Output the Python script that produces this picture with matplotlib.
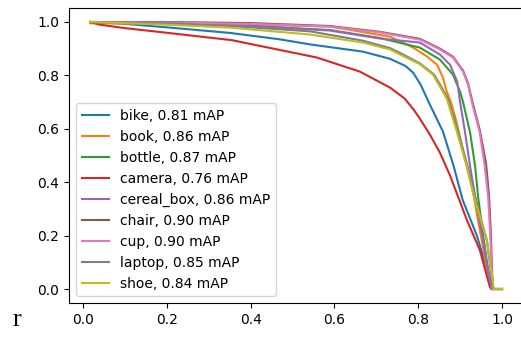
import matplotlib
matplotlib.use("Agg")
import matplotlib.pyplot as plt

# Precision-recall curves, values
labels = ["bike, 0.81 mAP", "book, 0.86 mAP", "bottle, 0.87 mAP", "camera, 0.76 mAP",
          "cereal_box, 0.86 mAP", "chair, 0.90 mAP", "cup, 0.90 mAP",
          "laptop, 0.85 mAP", "shoe, 0.84 mAP"]

bike_x = [0.017, 0.1, 0.2, 0.351, 0.47, 0.542, 0.668, 0.733, 0.77, 0.788, 0.806, 0.825,
          0.859, 0.885, 0.906, 0.94, 0.971, 0.975, 1.0]
bike_y = [1.0, 0.993, 0.98, 0.959, 0.935, 0.916, 0.889, 0.862, 0.835, 0.81, 0.765, 0.70,
          0.59, 0.458, 0.334, 0.2, 0.04, 0.0, 0.0]

book_x = [0.017, 0.2, 0.4, 0.589, 0.733, 0.788, 0.821, 0.845, 0.859, 0.868, 0.878, 0.89,
          0.91, 0.93, 0.947, 0.965, 0.975, 1.0]
book_y = [0.995, 0.995, 0.99, 0.983, 0.945, 0.904, 0.871, 0.84, 0.792, 0.74, 0.70, 0.634,
          0.5, 0.37, 0.22, 0.07, 0.0, 0.0]

bottle_x = [0.017, 0.2, 0.4, 0.589, 0.709, 0.804, 0.852, 0.883, 0.9, 0.907, 0.924, 0.936,
            0.943, 0.955, 0.968, 0.975, 1.0]
bottle_y = [1.0, 0.995, 0.985, 0.97, 0.94, 0.904, 0.859, 0.803, 0.739, 0.70, 0.585, 0.458,
            0.345, 0.2, 0.06, 0.0, 0.0]

camera_x = [0.017, 0.04, 0.1, 0.198, 0.355, 0.558, 0.661, 0.733, 0.768, 0.79, 0.804, 0.828,
            0.852, 0.876, 0.898, 0.916, 0.947, 0.971, 0.975, 1.0]
camera_y = [1.0, 0.99, 0.977, 0.96, 0.932, 0.867, 0.814, 0.754, 0.713, 0.67, 0.638, 0.578,
            0.51, 0.425, 0.334, 0.259, 0.146, 0.008, 0.0, 0.0]

cereal_x = [0.017, 0.2, 0.4, 0.589, 0.709, 0.804, 0.852, 0.876, 0.893, 0.9, 0.912, 0.924,
            0.936, 0.955, 0.97, 0.975, 1.0]
cereal_y = [1.0, 0.995, 0.985, 0.968, 0.938, 0.923, 0.878, 0.84, 0.777, 0.70, 0.585, 0.458,
            0.345, 0.18, 0.04, 0.0, 0.0]

chair_x = [0.017, 0.2, 0.4, 0.589, 0.709, 0.804, 0.852, 0.883, 0.907, 0.919, 0.928, 0.947,
           0.962, 0.969, 0.973, 0.976, 0.978, 1.0]
chair_y = [1.0, 1.0, 0.996, 0.985, 0.963, 0.937, 0.9, 0.87, 0.818, 0.77, 0.71, 0.595,
           0.47, 0.35, 0.22, 0.08, 0.0, 0.0]

cup_x = [0.017, 0.2, 0.4, 0.589, 0.709, 0.804, 0.852, 0.883, 0.907, 0.919, 0.928, 0.947,
         0.959, 0.967, 0.972, 0.976, 0.978, 1.0]
cup_y = [1.0, 0.998, 0.993, 0.983, 0.961, 0.934, 0.897, 0.867, 0.814, 0.765, 0.70, 0.585,
         0.458, 0.345, 0.2, 0.05, 0.0, 0.0]

laptop_x = [0.017, 0.2, 0.351, 0.542, 0.668, 0.733, 0.757, 0.804, 0.838, 0.862, 0.872, 0.896,
            0.918, 0.936, 0.964, 0.978, 0.98, 1.0]
laptop_y = [1.0, 0.995, 0.985, 0.965, 0.93, 0.902, 0.884, 0.845, 0.803, 0.739, 0.709, 0.585,
            0.458, 0.345, 0.18, 0.01, 0.0, 0.0]

shoe_x = [0.017, 0.2, 0.351, 0.542, 0.668, 0.733, 0.757, 0.804, 0.835, 0.859, 0.869, 0.893,
          0.916, 0.934, 0.964, 0.979, 0.98, 1.0]
shoe_y = [1.0, 0.99, 0.979, 0.953, 0.923, 0.897, 0.878, 0.842, 0.803, 0.739, 0.709, 0.585,
          0.458, 0.34, 0.184, 0.02, 0.0, 0.0]

curves = [(bike_x, bike_y), (book_x, book_y), (bottle_x, bottle_y), (camera_x, camera_y),
          (cereal_x, cereal_y), (chair_x, chair_y), (cup_x, cup_y),
          (laptop_x, laptop_y), (shoe_x, shoe_y)]

fig = plt.figure(figsize=(5.21, 3.37), dpi=100)
# axes run slightly past the right edge (the reference is cropped there)
ax = fig.add_axes([69 / 521, 34 / 337, 455 / 521, 295 / 337])
for (xs, ys), lab in zip(curves, labels):
    ax.plot(xs, ys, label=lab, linewidth=1.5)

ax.set_xlim(-0.0334, 1.0525)
ax.set_ylim(-0.0524, 1.0524)
ax.set_xticks([0.0, 0.2, 0.4, 0.6, 0.8, 1.0])
ax.set_yticks([0.0, 0.2, 0.4, 0.6, 0.8, 1.0])
ax.spines["right"].set_visible(False)
ax.legend(loc="lower left", fontsize=10)

fig.text(13 / 521, 1 - 326 / 337, "r", family="Liberation Serif", fontsize=19)

fig.savefig("out.png", dpi=100)
